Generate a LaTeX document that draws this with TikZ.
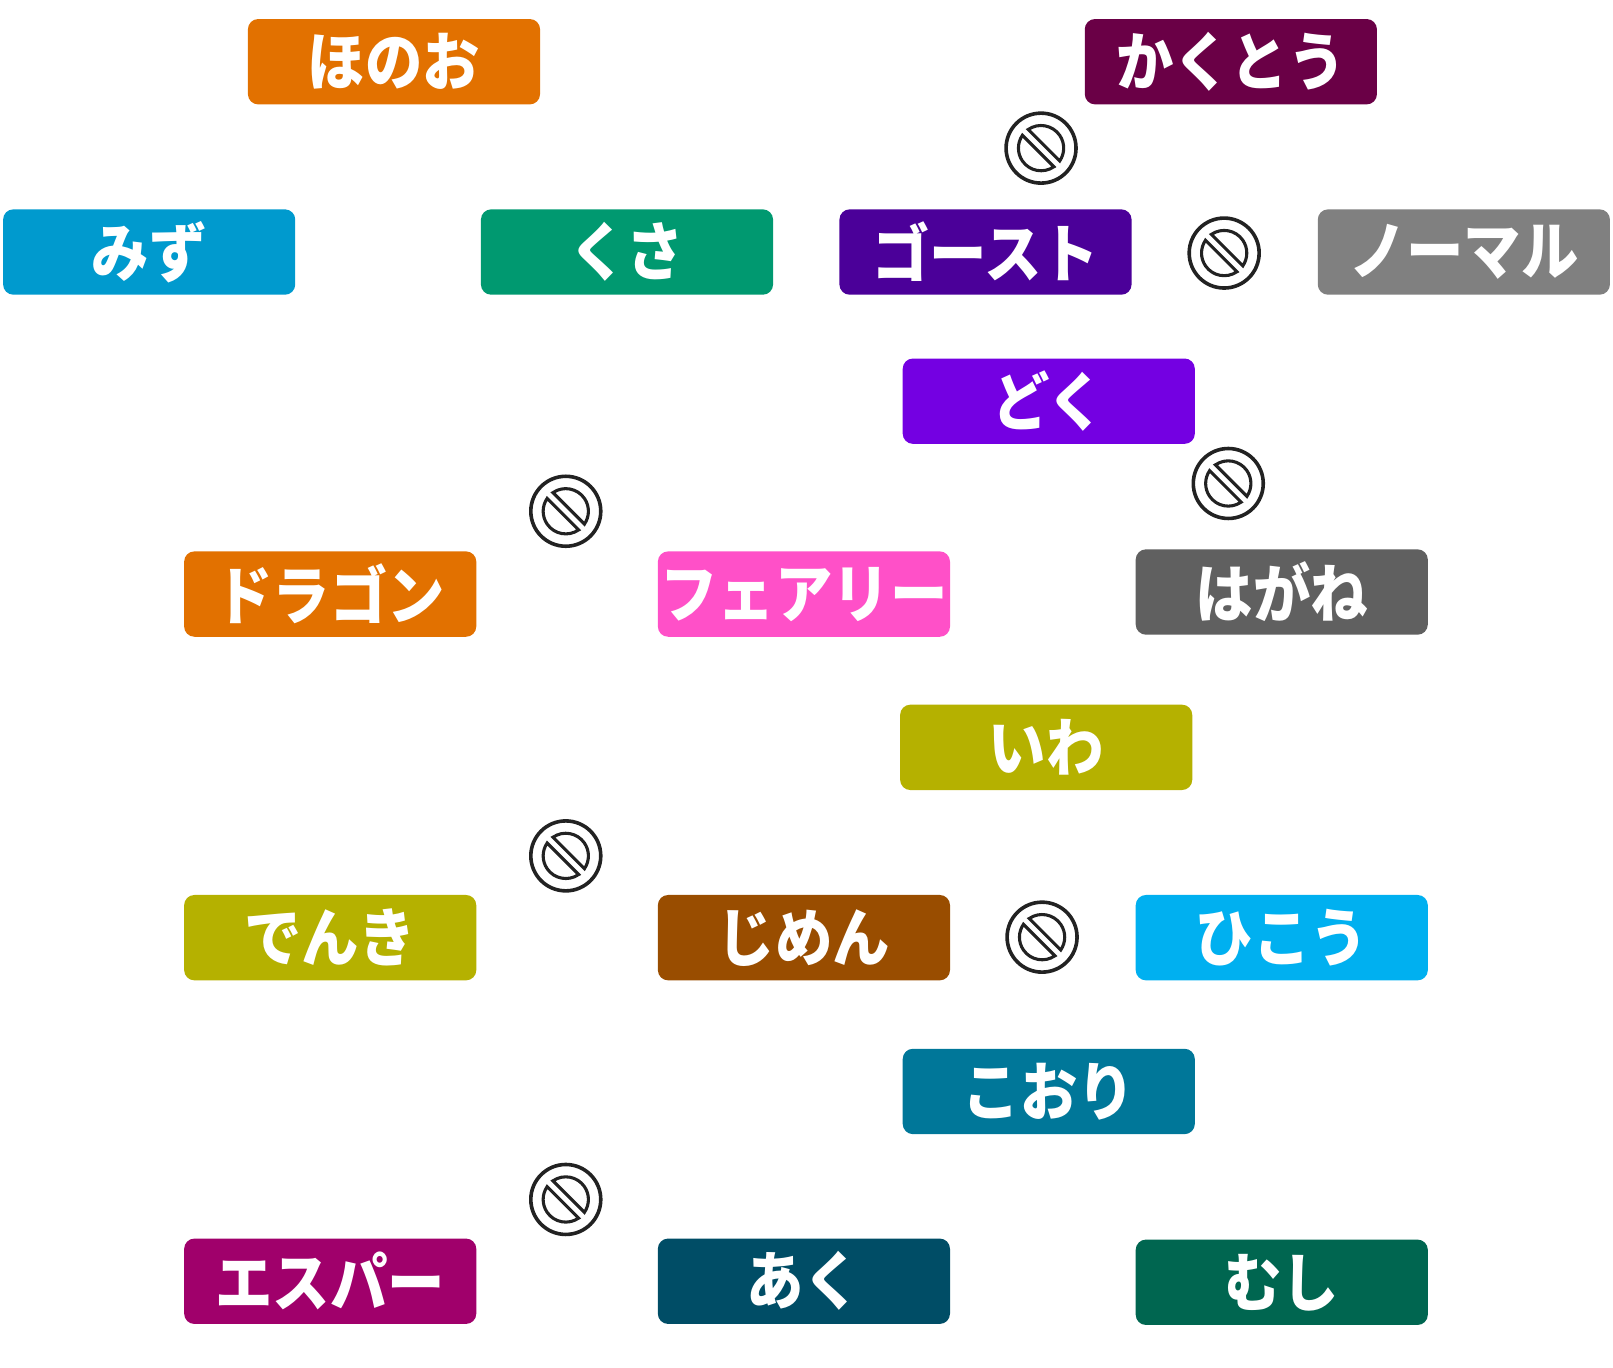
\documentclass[tikz,border=0pt]{standalone}
\usepackage{fontspec}
\newfontfamily\jp{Noto Sans CJK JP}[FakeStretch=0.9]
\definecolor{cfire}{HTML}{E27100}
\definecolor{cfight}{HTML}{6A0046}
\definecolor{cwater}{HTML}{009ACE}
\definecolor{cgrass}{HTML}{009970}
\definecolor{cghost}{HTML}{4B0099}
\definecolor{cnormal}{HTML}{808080}
\definecolor{cpoison}{HTML}{7400E2}
\definecolor{cfairy}{HTML}{FF50C8}
\definecolor{csteel}{HTML}{606060}
\definecolor{crock}{HTML}{B5B100}
\definecolor{cground}{HTML}{994D00}
\definecolor{cflying}{HTML}{00B0F0}
\definecolor{cice}{HTML}{007799}
\definecolor{cpsychic}{HTML}{A0006B}
\definecolor{cdark}{HTML}{004D66}
\definecolor{cbug}{HTML}{006650}
\definecolor{iconc}{HTML}{222222}
\begin{document}
\begin{tikzpicture}[x=1pt,y=-1pt,
  tbox/.style={rectangle, rounded corners=10pt, minimum width=284pt, minimum height=83pt,
    inner sep=0pt, text=white, font=\jp\bfseries\fontsize{62}{66}\selectfont},
  iconline/.style={draw=iconc, line width=3.5pt},
  noentry/.pic={
    \draw[iconline] (0,0) circle[radius=34];
    \draw[iconline, line width=3pt] (-124.5:22) arc[start angle=-124.5, end angle=34.5, radius=22] -- cycle;
    \draw[iconline, line width=3pt] (55.5:22) arc[start angle=55.5, end angle=214.5, radius=22] -- cycle;
  }]
\useasboundingbox (0,0) rectangle (1568,1329);
\node[tbox, fill=cfire]    (honoo)   at (383,60)     {ほのお};
\node[tbox, fill=cfight]   (kakutou) at (1196.5,60)  {かくとう};
\node[tbox, fill=cwater]   (mizu)    at (145,245)    {みず};
\node[tbox, fill=cgrass]   (kusa)    at (609.5,245)  {くさ};
\node[tbox, fill=cghost]   (ghost)   at (958,245)    {ゴースト};
\node[tbox, fill=cnormal]  (normal)  at (1423,245)   {ノーマル};
\node[tbox, fill=cpoison]  (doku)    at (1019.5,390) {どく};
\node[tbox, fill=cfire]    (dragon)  at (321,577.5)  {ドラゴン};
\node[tbox, fill=cfairy]   (fairy)   at (781.5,577.5){フェアリー};
\node[tbox, fill=csteel]   (hagane)  at (1246,575.5) {はがね};
\node[tbox, fill=crock]    (iwa)     at (1017,726.5) {いわ};
\node[tbox, fill=crock]    (denki)   at (321,911.5)  {でんき};
\node[tbox, fill=cground]  (jimen)   at (781.5,911.5){じめん};
\node[tbox, fill=cflying]  (hikou)   at (1246,911.5) {ひこう};
\node[tbox, fill=cice]     (koori)   at (1019.5,1061){こおり};
\node[tbox, fill=cpsychic] (esper)   at (321,1245.5) {エスパー};
\node[tbox, fill=cdark]    (aku)     at (781.5,1245.5){あく};
\node[tbox, fill=cbug]     (mushi)   at (1246,1246.5){むし};
\pic at (1012,144) {noentry};
\pic at (1190,246) {noentry};
\pic at (550,497) {noentry};
\pic at (1194,470) {noentry};
\pic at (550,832) {noentry};
\pic at (1013,911) {noentry};
\pic at (550,1166) {noentry};
\end{tikzpicture}
\end{document}
